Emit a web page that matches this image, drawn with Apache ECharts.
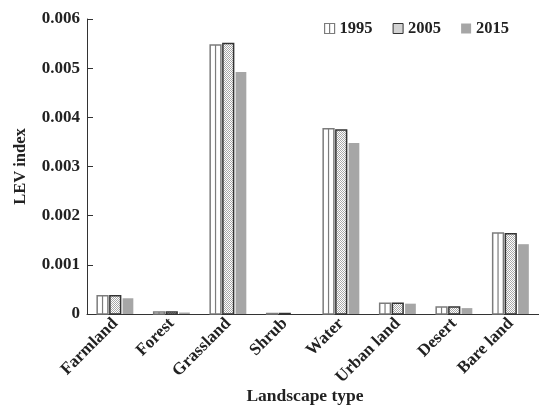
<!DOCTYPE html>
<html>
<head>
<meta charset="utf-8">
<script src="https://cdn.jsdelivr.net/npm/echarts@6/dist/echarts.min.js"></script>
<style>html,body{margin:0;padding:0;background:#fff}#c{width:539px;height:411px}</style>
</head>
<body>
<div id="c"></div>
<script>
const categories = ['Farmland','Forest','Grassland','Shrub','Water','Urban land','Desert','Bare land'];
const years = ['1995','2005','2015'];
const v1995 = [0.00037, 0.00004, 0.00547, 0.00001, 0.00377, 0.00022, 0.00014, 0.00165];
const v2005 = [0.00037, 0.00004, 0.00550, 0.00001, 0.00374, 0.00022, 0.00014, 0.00163];
const v2015 = [0.00032, 0.00003, 0.00492, 0.0, 0.00348, 0.00021, 0.00012, 0.00142];
const yTicks = [0, 0.001, 0.002, 0.003, 0.004, 0.005, 0.006];

const FONT = '"Liberation Serif", "Times New Roman", serif';

// stipple pattern for 2005
const pc = document.createElement('canvas');
pc.width = 2; pc.height = 2;
const pctx = pc.getContext('2d');
pctx.fillStyle = '#ffffff'; pctx.fillRect(0,0,2,2);
pctx.fillStyle = '#a8a8a8';
pctx.fillRect(0,0,1,1); pctx.fillRect(1,1,1,1);
const stipple = {image: pc, repeat: 'repeat'};

const styles = [
  {fill: '#ffffff', stroke: '#7c7c7c', lineWidth: 1.5, midLine: true},
  {fill: stipple, stroke: '#333333', lineWidth: 1.5, midLine: false},
  {fill: '#a6a6a6', stroke: null, lineWidth: 0, midLine: false}
];

function makeRender(k) {
  return function (params, api) {
    const cat = api.value(0), v = api.value(1);
    if (!(v > 0)) return null;
    const base = api.coord([cat, 0]);
    const top = api.coord([cat, v]);
    const band = api.size([1, 0])[0];
    const bw = band * 0.19;
    const gap = band * 0.035;
    const cx = base[0] + (k - 1) * (bw + gap);
    const x = cx - bw / 2;
    const st = styles[k];
    const children = [{
      type: 'rect',
      shape: {x: x, y: top[1], width: bw, height: base[1] - top[1]},
      style: st.stroke ? {fill: st.fill, stroke: st.stroke, lineWidth: st.lineWidth} : {fill: st.fill}
    }];
    if (st.midLine) {
      children.push({
        type: 'line',
        shape: {x1: cx, y1: top[1], x2: cx, y2: base[1]},
        style: {stroke: st.stroke, lineWidth: 1.2}
      });
    }
    return {type: 'group', children: children};
  };
}

const allValues = [v1995, v2005, v2015];
const series = years.map((y, k) => ({
  name: y,
  type: 'custom',
  renderItem: makeRender(k),
  encode: {x: 0, y: 1},
  itemStyle: {color: k === 2 ? '#a6a6a6' : '#ffffff'},
  data: allValues[k].map((v, i) => [i, v])
}));

const chart = echarts.init(document.getElementById('c'), null, {renderer: 'canvas'});
chart.setOption({
  animation: false,
  backgroundColor: '#ffffff',
  textStyle: {fontFamily: FONT},
  legend: {
    left: 319, top: 15,
    itemWidth: 10, itemHeight: 10, itemGap: 20,
    textStyle: {fontFamily: FONT, fontWeight: 'bold', fontSize: 16.5, color: '#222'},
    data: [
      {name: '1995', icon: 'path://M0,0H10V10H0Z M5,0V10', itemStyle: {color: '#ffffff', borderColor: '#7c7c7c', borderWidth: 1.2}},
      {name: '2005', icon: 'rect', itemStyle: {color: stipple, borderColor: '#333', borderWidth: 1}},
      {name: '2015', icon: 'rect', itemStyle: {color: '#a6a6a6', borderWidth: 0}}
    ]
  },
  grid: {left: 87, right: 0, top: 19, bottom: 97, containLabel: false, outerBoundsMode: 'none'},
  xAxis: {
    type: 'category',
    data: categories,
    name: 'Landscape type',
    nameLocation: 'middle',
    nameGap: 73,
    nameMoveOverlap: false,
    nameTextStyle: {fontFamily: FONT, fontWeight: 'bold', fontSize: 17.5, color: '#222', padding: [0, 16, 0, 0]},
    axisLine: {lineStyle: {color: '#333', width: 1}},
    axisTick: {inside: true, length: 6, lineStyle: {color: '#333'}},
    axisLabel: {rotate: 45, interval: 0, margin: 7, fontFamily: FONT, fontWeight: 'bold', fontSize: 17, color: '#222'}
  },
  yAxis: {
    type: 'value',
    min: 0, max: 0.006, interval: 0.001,
    name: 'LEV index',
    nameLocation: 'middle',
    nameGap: 58,
    nameMoveOverlap: false,
    nameTextStyle: {fontFamily: FONT, fontWeight: 'bold', fontSize: 16.5, color: '#222'},
    axisLine: {show: true, lineStyle: {color: '#333', width: 1}},
    axisTick: {show: true, inside: true, length: 6, lineStyle: {color: '#333'}},
    splitLine: {show: false},
    axisLabel: {
      margin: 7, fontFamily: FONT, fontWeight: 'bold', fontSize: 17, color: '#222',
      formatter: function (val) {
        const t = yTicks.find(x => Math.abs(x - val) < 1e-9);
        return t === 0 ? '0' : (t !== undefined ? t.toFixed(3) : '');
      }
    }
  },
  series: series
});
</script>
</body>
</html>
